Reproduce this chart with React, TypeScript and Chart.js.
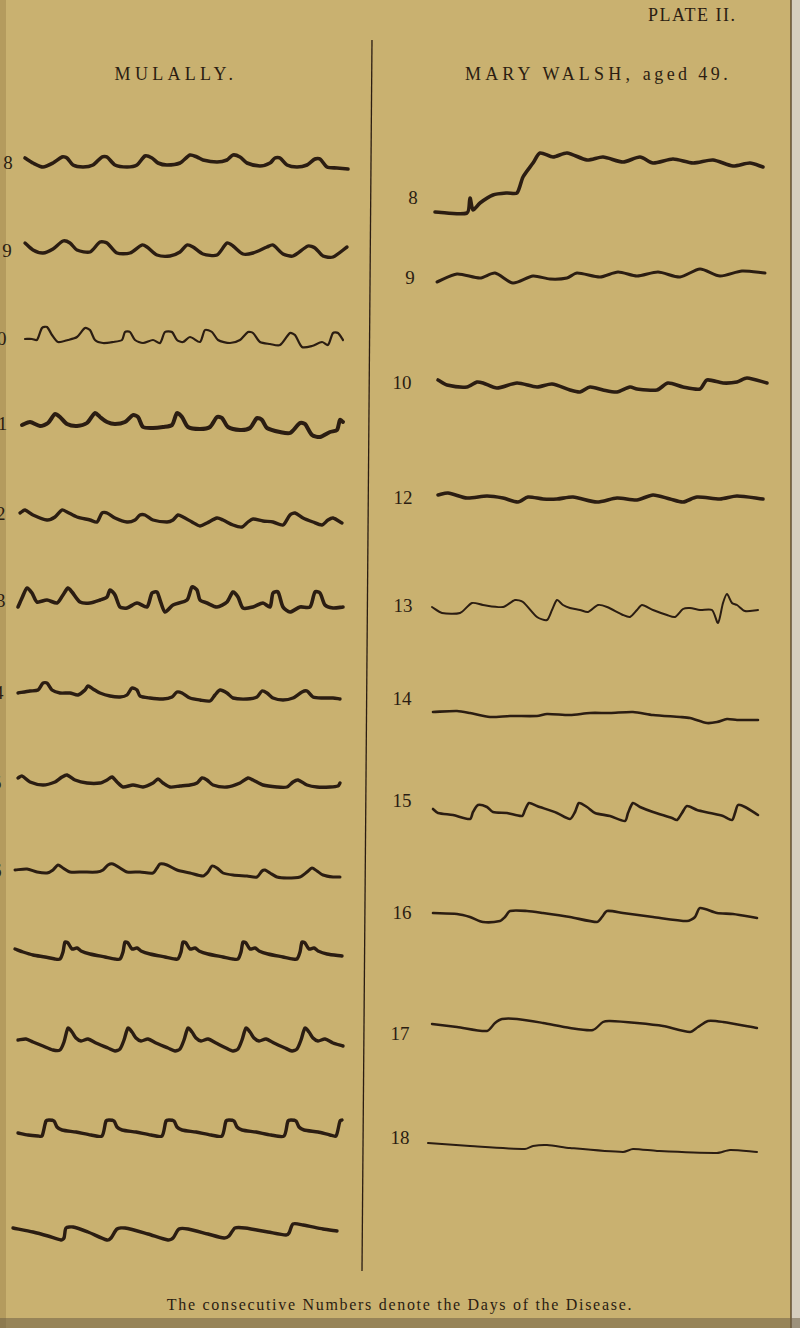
import React, { useEffect, useRef } from "react";
import { Chart, registerables } from "chart.js";

Chart.register(...registerables);

// ---------- DATA: pulse tracings, flat [time, deflection, time, deflection, ...] ----------
// MULALLY (left column)
const L08 = [0,4,8,-1,18,-5,28,-1,37,5,42,4,48,-3,58,-5,68,-3,77,5,82,5,90,-3,102,-5,112,-3,120,6,127,4,133,-1,142,-3,155,-1,165,7,172,5,178,2,192,0,202,2,208,7,215,5,222,-1,235,-4,245,-1,250,4,255,4,262,-3,272,-5,282,-3,290,3,295,3,302,-5,312,-6,323,-7];
const L09 = [0,7,8,0,18,-3,28,1,38,9,45,7,52,0,65,-2,75,8,82,7,92,-3,105,-3,117,5,122,3,132,-5,145,-6,155,-2,162,5,168,3,178,-4,192,-5,202,7,208,4,218,-4,228,-3,242,3,248,5,258,-4,268,-6,283,4,290,2,298,-6,308,-7,322,3];
const L10 = [0,-1,7,-1,12,-2,17,10,22,11,27,3,33,-4,43,-2,52,1,60,10,65,8,70,-2,78,-5,88,-4,97,-2,100,6,105,6,110,-2,118,-5,128,-2,135,-5,140,6,147,6,152,-2,158,-4,165,1,175,-4,180,8,187,6,193,-2,205,-5,215,-2,223,6,228,5,235,-4,245,-6,255,-7,265,5,270,3,277,-9,287,-8,297,-4,303,-7,308,5,313,5,318,-2];
const L11 = [0,-2,8,1,18,-3,26,0,33,9,38,6,45,-1,55,-3,65,0,73,10,78,6,85,1,93,-1,103,1,111,8,116,6,121,-4,131,-5,141,-4,150,-2,155,10,160,6,166,-4,178,-6,188,-4,195,6,200,5,206,-4,218,-7,228,-5,235,5,240,3,245,-5,258,-9,268,-10,278,0,283,-1,290,-12,298,-14,308,-9,315,-7,318,3,321,1];
const L12 = [0,2,5,5,13,0,27,-5,35,-2,42,5,47,3,57,-2,70,-5,77,-7,82,2,87,2,95,-3,107,-7,115,-5,120,0,125,0,133,-5,147,-7,153,-5,158,0,163,-2,172,-7,180,-11,187,-8,197,-3,203,-5,213,-10,222,-12,228,-7,233,-4,243,-6,253,-7,263,-10,270,0,275,2,283,-3,293,-7,302,-10,308,-5,313,-3,322,-8];
const L13 = [0,-7,4,2,9,12,14,7,19,-2,29,0,39,-3,45,5,50,12,54,8,62,-2,72,-3,82,0,89,3,92,10,97,5,102,-7,109,-8,119,-3,129,-7,134,7,139,8,142,0,147,-12,155,-5,169,0,174,13,179,10,182,0,189,-3,199,-7,209,-2,215,8,220,3,225,-8,235,-7,245,-3,252,-7,255,7,260,8,265,-7,272,-12,282,-7,292,-7,297,8,302,7,307,-5,315,-8,325,-7];
const L14 = [0,0,12,2,20,3,25,10,29,10,34,3,42,0,52,0,60,-2,67,3,70,7,75,4,82,0,92,-3,102,-4,109,-2,114,5,119,3,122,-3,132,-5,145,-6,154,-4,159,1,164,0,172,-5,182,-7,192,-8,197,-2,202,3,209,0,215,-5,229,-6,239,-4,244,2,249,0,255,-5,265,-7,275,-5,284,1,289,2,295,-4,305,-5,315,-5,322,-6];
const L15 = [0,4,4,6,12,0,25,-3,37,0,44,5,49,7,57,2,69,-1,82,-1,89,2,94,5,99,0,105,-5,115,-3,125,-5,135,-1,140,3,145,-1,152,-5,162,-4,172,-3,179,-1,184,4,189,2,195,-3,209,-5,222,-1,230,4,235,2,245,-3,259,-5,269,-5,275,0,280,2,289,-3,299,-5,312,-5,320,-4,322,-1];
const L16 = [0,0,12,1,22,-2,32,-3,38,0,43,5,48,2,55,-2,68,-2,82,-2,88,0,93,5,98,6,105,2,112,-2,125,-2,138,-3,142,2,145,6,152,5,162,0,175,-3,188,-6,193,-2,197,4,202,2,208,-3,218,-5,232,-6,242,-7,247,-1,250,0,255,-3,262,-7,272,-8,285,-7,292,-2,297,2,302,-1,308,-5,318,-7,325,-7];
const L17 = [0,3,8,0,18,-3,30,-5,40,-7,45,-7,48,0,50,10,53,9,57,3,62,4,66,1,75,-2,90,-5,100,-7,105,-7,108,0,110,10,113,9,117,3,122,4,126,1,135,-2,150,-5,160,-7,163,-7,166,0,168,10,171,9,175,3,180,4,184,1,193,-2,208,-5,218,-7,223,-7,226,0,228,10,231,9,235,3,240,4,244,1,253,-2,268,-5,278,-7,282,-7,285,0,287,10,290,9,294,3,299,4,303,1,312,-2,327,-4];
const L18 = [0,0,8,1,15,-2,25,-6,35,-10,42,-10,46,-2,50,12,54,8,58,2,63,-1,70,1,78,-3,90,-8,97,-11,102,-9,106,0,110,12,114,8,118,2,123,-1,130,1,138,-3,150,-8,157,-11,162,-9,166,0,170,12,174,8,178,2,183,-1,190,1,198,-3,208,-8,215,-11,220,-9,224,0,228,12,232,8,236,2,241,-1,248,1,256,-3,267,-8,274,-11,279,-9,283,0,287,12,291,8,295,2,300,-1,307,1,315,-3,325,-6];
const L19 = [0,-5,10,-7,20,-8,24,-8,28,7,31,8,36,7,39,1,44,-2,58,-4,73,-7,84,-8,88,7,91,8,96,7,99,1,104,-2,118,-4,133,-7,144,-8,148,7,151,8,156,7,159,1,164,-2,178,-4,193,-7,204,-8,208,7,211,8,216,7,219,1,224,-2,238,-4,253,-7,266,-8,270,7,273,8,278,7,281,1,286,-2,300,-4,312,-7,318,-8,322,7,324,8];
const L20 = [0,4,20,0,35,-4,48,-8,51,-6,53,4,60,5,75,0,94,-8,98,-6,104,3,112,4,135,-2,155,-8,160,-6,166,3,175,3,195,-2,211,-6,216,-4,222,4,232,4,255,0,273,-3,276,-1,280,8,290,7,310,3,324,1];

// MARY WALSH (right column)
const R08 = [0,-22,32,-23,35,-8,38,-20,45,-13,58,-5,72,-3,82,-3,88,13,98,27,105,37,118,33,132,37,152,30,168,33,188,28,205,33,218,27,238,31,258,27,278,30,298,24,315,27,328,23];
const R09 = [0,-5,20,3,43,-1,58,4,76,-6,96,1,113,-2,130,-1,140,4,163,0,181,5,200,1,221,5,243,0,263,8,283,1,305,6,328,4];
const R10 = [0,5,9,0,29,-2,39,3,45,2,59,-3,79,2,99,-2,114,1,132,-5,142,-7,152,-2,165,-5,179,-7,192,-2,199,-4,219,-5,230,2,245,-2,262,-4,269,5,285,2,299,3,309,7,329,2];
const R12 = [0,3,10,5,29,0,49,2,65,0,80,-4,90,1,105,-1,119,-1,135,1,159,-4,179,0,199,-2,215,3,232,-1,245,-4,259,1,282,-1,299,2,325,-1];
const R13 = [0,3,10,-3,28,-3,40,7,51,5,71,3,83,10,91,8,105,-7,115,-10,120,0,125,10,131,5,138,2,148,0,156,-2,166,5,175,3,191,-5,198,-7,205,0,210,5,221,0,235,-5,243,-7,251,1,258,2,268,0,280,0,286,-13,291,7,295,16,300,7,305,5,313,-1,326,0];
const R14 = [0,4,24,5,37,3,57,-1,77,0,104,0,114,2,137,1,157,3,177,3,200,4,220,1,247,-1,257,-2,274,-7,284,-6,294,-3,304,-4,325,-4];
const R15 = [0,3,5,-1,20,-3,37,-7,40,0,45,7,54,5,60,0,74,-1,89,-4,92,2,96,9,104,6,124,-1,137,-7,142,0,146,9,154,5,162,-1,177,-4,192,-9,195,-1,200,9,207,5,220,0,239,-6,244,-8,249,-1,254,6,264,2,277,-1,290,-4,299,-8,302,-1,305,7,312,5,325,-3];
const R16 = [0,2,24,1,37,-2,50,-7,67,-6,72,-2,77,4,94,4,110,2,137,-2,164,-7,169,-2,174,4,190,2,220,-2,254,-6,262,-2,267,7,284,2,300,1,324,-3];
const R17 = [0,1,25,-2,55,-6,63,2,70,6,85,6,111,2,138,-3,161,-5,171,3,178,4,205,2,231,-1,258,-7,266,-2,276,4,291,3,325,-3];
const R18 = [0,5,42,2,97,-1,105,2,119,3,142,0,195,-4,205,-1,229,-3,289,-5,302,-2,329,-4];

// Day labels
const LEFT_DAYS = ["8", "9", "10", "11", "12", "13", "14", "15", "16"];
const RIGHT_DAYS = ["8", "9", "10", "12", "13", "14", "15", "16", "17", "18"];

// ---------- LAYOUT (positions / styles, kept apart from data) ----------
const INK = "#2b1d12";
const PAPER = "rgb(201,177,112)";

type Trace = { data: number[]; x0: number; base: number; lw: number };
const TRACES: Trace[] = [
  { data: L08, x0: 25, base: 162, lw: 3.6 },
  { data: L09, x0: 25, base: 250, lw: 3.4 },
  { data: L10, x0: 25, base: 338, lw: 2.2 },
  { data: L11, x0: 22, base: 423, lw: 4 },
  { data: L12, x0: 20, base: 515, lw: 3.4 },
  { data: L13, x0: 18, base: 600, lw: 3.6 },
  { data: L14, x0: 18, base: 693, lw: 3.4 },
  { data: L15, x0: 18, base: 782, lw: 3.4 },
  { data: L16, x0: 15, base: 870, lw: 3 },
  { data: L17, x0: 15, base: 952, lw: 3.4 },
  { data: L18, x0: 18, base: 1040, lw: 3.4 },
  { data: L19, x0: 18, base: 1128, lw: 3.4 },
  { data: L20, x0: 13, base: 1232, lw: 3.4 },
  { data: R08, x0: 435, base: 190, lw: 3.6 },
  { data: R09, x0: 437, base: 277, lw: 3 },
  { data: R10, x0: 438, base: 385, lw: 3.6 },
  { data: R12, x0: 438, base: 498, lw: 3.6 },
  { data: R13, x0: 432, base: 610, lw: 2 },
  { data: R14, x0: 433, base: 716, lw: 2.6 },
  { data: R15, x0: 433, base: 812, lw: 2.6 },
  { data: R16, x0: 433, base: 915, lw: 2.6 },
  { data: R17, x0: 432, base: 1025, lw: 2.4 },
  { data: R18, x0: 428, base: 1148, lw: 2 },
];
const LEFT_LABEL_POS = [
  [8, 162], [7, 250], [-3, 338], [-2, 423], [-4, 513], [-4, 600], [-6, 692], [-8, 782], [-8, 870],
];
const RIGHT_LABEL_POS = [
  [413, 197], [410, 277], [402, 382], [403, 497], [403, 605], [402, 698], [402, 800], [402, 912], [400, 1033], [400, 1137],
];

const PAD_X = 10;
const SPAN_X = 350;
const HALF_Y = 45;

function TraceChart({ t }: { t: Trace }) {
  const ref = useRef<HTMLCanvasElement | null>(null);
  useEffect(() => {
    if (!ref.current) return;
    const pts: { x: number; y: number }[] = [];
    for (let i = 0; i + 1 < t.data.length; i += 2) pts.push({ x: t.data[i], y: t.data[i + 1] });
    const chart = new Chart(ref.current, {
      type: "scatter",
      data: {
        datasets: [
          {
            data: pts,
            showLine: true,
            borderColor: INK,
            borderWidth: t.lw,
            pointRadius: 0,
            tension: 0.25,
            borderCapStyle: "round",
            borderJoinStyle: "round",
            clip: false,
          } as any,
        ],
      },
      options: {
        responsive: false,
        animation: false,
        devicePixelRatio: 1,
        layout: { padding: 0 },
        events: [],
        plugins: { legend: { display: false }, tooltip: { enabled: false }, title: { display: false } },
        scales: {
          x: { type: "linear", min: -PAD_X, max: SPAN_X, display: false },
          y: { type: "linear", min: -HALF_Y, max: HALF_Y, display: false },
        },
      },
    });
    return () => chart.destroy();
  }, [t]);
  return (
    <canvas
      ref={ref}
      width={SPAN_X + PAD_X}
      height={HALF_Y * 2}
      style={{ position: "absolute", left: t.x0 - PAD_X, top: t.base - HALF_Y, width: SPAN_X + PAD_X, height: HALF_Y * 2 }}
    />
  );
}

const serif = "'Liberation Serif', 'DejaVu Serif', serif";

function Label({ text, x, y }: { text: string; x: number; y: number }) {
  return (
    <div
      style={{
        position: "absolute",
        left: x,
        top: y,
        transform: "translate(-50%, -50%)",
        fontFamily: serif,
        fontSize: 19,
        color: INK,
        lineHeight: 1,
        whiteSpace: "nowrap",
      }}
    >
      {text}
    </div>
  );
}

export default function App() {
  return (
    <div
      style={{
        position: "absolute",
        left: 0,
        top: 0,
        width: 800,
        height: 1328,
        overflow: "hidden",
        background: PAPER,
        fontFamily: serif,
      }}
    >
      {/* paper edges */}
      <div style={{ position: "absolute", left: 0, top: 0, width: 6, height: 1328, background: "rgba(120,90,40,0.25)" }} />
      <div style={{ position: "absolute", left: 791, top: 0, width: 9, height: 1328, background: "rgb(214,206,190)" }} />
      <div style={{ position: "absolute", left: 790, top: 0, width: 2, height: 1328, background: "rgba(90,70,40,0.7)" }} />
      <div style={{ position: "absolute", left: 0, top: 1318, width: 800, height: 10, background: "rgba(110,95,70,0.55)" }} />

      {/* divider */}
      <svg width={800} height={1328} style={{ position: "absolute", left: 0, top: 0 }}>
        <line x1={372} y1={40} x2={362} y2={1271} stroke={INK} strokeWidth={1.3} />
      </svg>

      {/* headings */}
      <div style={{ position: "absolute", left: 648, top: 6, fontSize: 18, letterSpacing: 1.5, color: INK, lineHeight: 1 }}>
        PLATE II.
      </div>
      <div style={{ position: "absolute", left: 176, top: 74, transform: "translate(-50%,-50%)", fontSize: 18, letterSpacing: 4.3, color: INK, lineHeight: 1, whiteSpace: "nowrap" }}>
        MULALLY.
      </div>
      <div style={{ position: "absolute", left: 598, top: 74, transform: "translate(-50%,-50%)", fontSize: 18, letterSpacing: 4.2, color: INK, lineHeight: 1, whiteSpace: "nowrap" }}>
        MARY WALSH, <span style={{ letterSpacing: 3.4 }}>aged 49.</span>
      </div>

      {LEFT_DAYS.map((d, i) => (
        <Label key={"l" + i} text={d} x={LEFT_LABEL_POS[i][0]} y={LEFT_LABEL_POS[i][1]} />
      ))}
      {RIGHT_DAYS.map((d, i) => (
        <Label key={"r" + i} text={d} x={RIGHT_LABEL_POS[i][0]} y={RIGHT_LABEL_POS[i][1]} />
      ))}

      {TRACES.map((t, i) => (
        <TraceChart key={i} t={t} />
      ))}

      <div style={{ position: "absolute", left: 400, top: 1305, transform: "translate(-50%,-50%)", fontSize: 16, letterSpacing: 1.7, color: INK, lineHeight: 1, whiteSpace: "nowrap" }}>
        The consecutive Numbers denote the Days of the Disease.
      </div>
    </div>
  );
}
